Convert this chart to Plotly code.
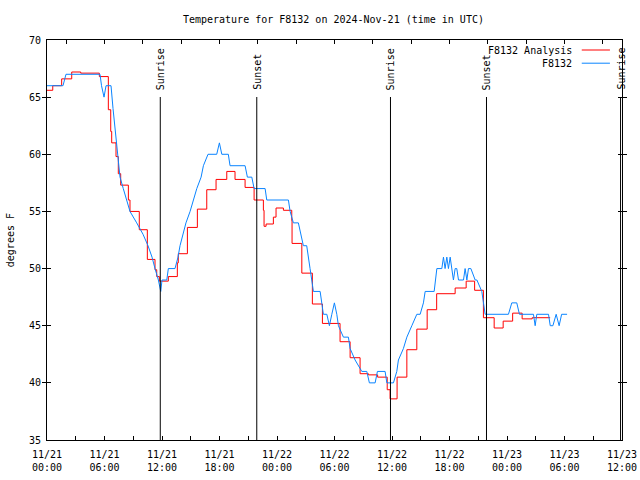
import pandas as pd
import plotly.graph_objects as go

START = "2024-11-21 00:00"

# Analysis (red): step values, hours since 11/21 00:00 UTC
analysis_hours = [0.0, 0.6, 1.53, 2.58, 3.52, 5.46, 6.4, 6.65, 6.75, 7.2, 7.44, 7.69, 8.49, 8.66,
                  9.63, 10.47, 11.27, 11.45, 11.72, 12.66, 13.6, 13.7, 14.65, 15.69, 16.67, 17.64,
                  18.76, 19.62, 20.67, 21.61, 22.58, 22.65, 22.86, 23.62, 23.9, 24.67, 25.54, 25.57,
                  26.59, 27.69, 28.74, 30.58, 31.63, 32.67, 33.54, 34.5, 35.5, 35.8, 36.53, 37.55,
                  38.59, 39.67, 40.66, 42.59, 43.74, 44.62, 45.54, 46.66, 47.6, 48.59, 49.58, 50.63, 52.5]
analysis_temp = [65.6, 66.0, 66.6, 67.2, 67.1, 66.8, 63.9, 62.0, 61.0, 59.8, 58.3, 57.3, 56.0, 55.0,
                 53.4, 50.8, 49.9, 49.3, 48.9, 49.3, 50.5, 51.3, 53.6, 55.2, 56.9, 57.8,
                 58.5, 57.8, 57.1, 56.0, 55.1, 53.7, 53.9, 54.5, 55.3, 55.1, 54.2, 52.2,
                 49.6, 46.9, 45.2, 43.6, 42.2, 40.8, 40.7, 40.5, 39.4, 38.6, 40.5, 42.9,
                 44.7, 46.4, 47.8, 48.3, 48.9, 48.1, 45.7, 44.8, 45.4, 46.1, 45.6, 45.7, 45.7]

# Observations (blue)
obs_hours = [0.0, 1.67, 1.98, 5.53, 5.69, 5.95, 6.16, 6.68, 6.89, 7.28, 7.62, 7.96, 8.32, 8.66,
             9.36, 10.02, 10.54, 10.96, 11.27, 11.62, 11.87, 12.0, 12.5, 12.66, 13.36, 13.67,
             13.88, 14.2, 14.5, 14.93, 15.27, 15.63, 16.08, 16.32, 16.8, 17.71, 17.99, 18.24,
             18.92, 19.1, 20.67, 20.91, 21.37, 21.61, 22.76, 22.93, 25.19, 25.37, 25.71, 26.23,
             26.75, 27.1, 27.45, 27.8, 28.5, 28.84, 29.2, 29.47, 29.72, 29.99, 30.24, 30.41,
             30.93, 31.45, 31.63, 32.15, 32.85, 33.37, 33.64, 34.24, 34.48, 35.28, 35.46, 36.15,
             36.5, 36.67, 37.19, 37.55, 38.07, 38.59, 38.94, 39.28, 39.46, 40.4, 40.68, 41.2,
             41.37, 41.54, 41.72, 41.89, 42.07, 42.24, 42.41, 42.59, 42.76, 42.94, 43.46, 43.63,
             43.81, 43.98, 44.23, 44.68, 44.86, 45.37, 45.54, 45.72, 45.89, 48.15, 48.5, 49.02,
             49.3, 50.76, 50.94, 51.11, 52.33, 52.51, 52.79, 53.13, 53.44, 53.7, 54.27]
obs_temp = [66, 66, 67, 67, 66, 65, 66, 66, 64, 61, 58, 57, 56, 55,
            54, 53, 52, 51, 50, 49, 48, 49, 49, 50, 50, 51,
            52, 53, 54, 55, 56, 57, 58, 59, 60, 60, 61, 60,
            60, 59, 59, 58, 58, 57, 57, 56, 56, 55, 54, 54,
            52, 52, 50, 48, 48, 46, 46, 45, 46, 47, 46, 45,
            44, 44, 43, 42, 41, 41, 40, 40, 41, 41, 40, 40,
            41, 42, 43, 44, 45, 46, 46, 47, 48, 48, 50, 50,
            51, 50, 51, 50, 51, 50, 49, 50, 50, 49, 49, 50,
            49, 50, 50, 49, 49, 48, 47, 46, 46, 46, 47, 47,
            46, 46, 45, 46, 46, 45, 45, 46, 45, 46, 46]

sun_hours = [11.82, 21.89, 35.84, 45.86, 59.85]
sun_labels = ["Sunrise", "Sunset", "Sunrise", "Sunset", "Sunrise"]

tick_hours = [0, 6, 12, 18, 24, 30, 36, 42, 48, 54, 60]
tick_text = ["11/21<br>00:00", "11/21<br>06:00", "11/21<br>12:00", "11/21<br>18:00",
             "11/22<br>00:00", "11/22<br>06:00", "11/22<br>12:00", "11/22<br>18:00",
             "11/23<br>00:00", "11/23<br>06:00", "11/23<br>12:00"]

t0 = pd.Timestamp(START)
def to_time(hs):
    return [t0 + pd.Timedelta(hours=h) for h in hs]

FONT = "DejaVu Sans Mono"
RED = "#ff0000"
BLUE = "#0a84ff"

fig = go.Figure()
fig.add_trace(go.Scatter(x=to_time(analysis_hours), y=analysis_temp, mode="lines",
                         line=dict(color=RED, width=1, shape="hv"), name="F8132 Analysis"))
fig.add_trace(go.Scatter(x=to_time(obs_hours), y=obs_temp, mode="lines",
                         line=dict(color=BLUE, width=1), name="F8132"))

for h, lab in zip(sun_hours, sun_labels):
    t = t0 + pd.Timedelta(hours=h)
    fig.add_shape(type="line", xref="x", yref="paper", x0=t, x1=t, y0=0, y1=0.8575,
                  line=dict(color="black", width=1))
    fig.add_annotation(x=t, y=0.87, xref="x", yref="paper", text=lab, textangle=-90,
                       showarrow=False, xanchor="center", yanchor="bottom",
                       font=dict(family=FONT, size=10, color="black"))

# manual legend (text left of sample line, like the reference)
for name, col, yy in [("F8132 Analysis", RED, 0.975), ("F8132", BLUE, 0.942)]:
    fig.add_annotation(x=0.916, y=yy, xref="paper", yref="paper", text=name, showarrow=False,
                       xanchor="right", yanchor="middle",
                       font=dict(family=FONT, size=10, color="black"))
    fig.add_shape(type="line", xref="paper", yref="paper", x0=0.930, x1=0.979, y0=yy, y1=yy,
                  line=dict(color=col, width=1))

fig.add_annotation(x=-0.064, y=0.5, xref="paper", yref="paper", text="degrees F",
                   textangle=-90, showarrow=False, xanchor="center", yanchor="middle",
                   font=dict(family=FONT, size=10, color="black"))

xr = [t0, t0 + pd.Timedelta(hours=60)]
fig.update_layout(
    width=640, height=480,
    margin=dict(l=47, r=18, t=40, b=40, autoexpand=False),
    paper_bgcolor="white", plot_bgcolor="white",
    showlegend=False,
    font=dict(family=FONT, size=10, color="black"),
    title=dict(text="Temperature for F8132 on 2024-Nov-21 (time in UTC)", x=0.521, xanchor="center",
               y=0.96, yanchor="middle", font=dict(family=FONT, size=10, color="black")),
    xaxis=dict(range=xr, type="date", tickvals=to_time(tick_hours), ticktext=tick_text,
               automargin=False, ticklabelstandoff=5,
               showgrid=False, zeroline=False, showline=True, linecolor="black", linewidth=1,
               mirror=True, ticks="inside", ticklen=4, tickcolor="black",
               minor=dict(dtick=3 * 3600000, tick0=START, ticks="inside", ticklen=4,
                          tickcolor="black", showgrid=False),
               tickfont=dict(family=FONT, size=10)),
    xaxis2=dict(range=xr, type="date", overlaying="x", side="top", showgrid=False,
                automargin=False,
                zeroline=False, showticklabels=False, ticks="inside", ticklen=4,
                tickcolor="black", tickmode="linear", tick0="2024-11-21 02:00",
                dtick=4 * 3600000),
    yaxis=dict(range=[35, 70], dtick=5, showgrid=False, zeroline=False, showline=True,
               automargin=False, ticklabelstandoff=3,
               linecolor="black", linewidth=1, mirror="allticks", ticks="inside", ticklen=4,
               tickcolor="black", tickfont=dict(family=FONT, size=10)),
)
# invisible trace to activate xaxis2
fig.add_trace(go.Scatter(x=xr, y=[None, None], xaxis="x2", mode="lines", showlegend=False,
                         hoverinfo="skip"))

# remove the default page margin so the 640x480 figure fills the window exactly
fig.write_html("out.html", config={"displayModeBar": False},
               post_script="document.body.style.margin='0';document.body.style.overflow='hidden';")
